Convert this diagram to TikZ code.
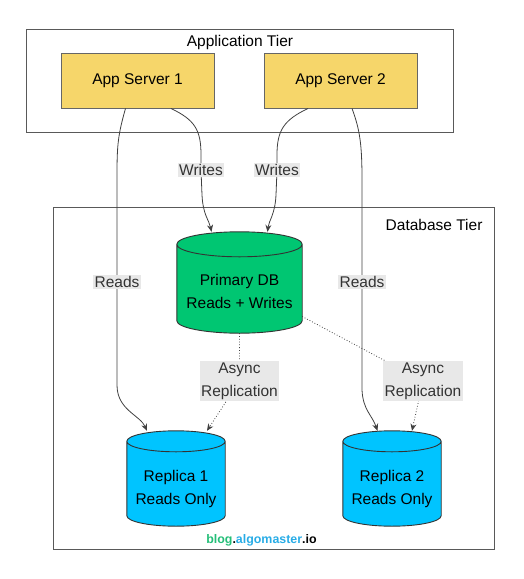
\documentclass[tikz,border=0pt]{standalone}
\usepackage{fontspec}
\setmainfont{Liberation Sans}
\usetikzlibrary{arrows.meta,calc,backgrounds}

\definecolor{serverfill}{RGB}{246,214,106}
\definecolor{primaryfill}{RGB}{0,198,114}
\definecolor{replicafill}{RGB}{0,196,255}
\definecolor{labelgray}{RGB}{232,232,232}
\definecolor{bloggreen}{RGB}{36,190,120}
\definecolor{blogblue}{RGB}{40,172,230}

% two lines of text, set a bit below the middle of the cylinder body
\newcommand{\dbtext}[2]{\raisebox{-13.5pt}[0pt][0pt]{\begin{tabular}{@{}c@{}}#1\\#2\end{tabular}}}
% cylinder drawn round a node: name, fill colour, radius of the end ellipses
\newcommand{\dbcylinder}[3]{%
  \draw[dbline, fill=#2] let \p1=(#1.north west), \p2=(#1.north east), \n1={(\x2-\x1)/2} in
    ([yshift=-#3]#1.north west) -- ([yshift=#3]#1.south west)
    arc[start angle=180, end angle=360, x radius=\n1, y radius=#3]
    -- ([yshift=-#3]#1.north east)
    arc[start angle=0, end angle=180, x radius=\n1, y radius=#3] -- cycle
    ([yshift=-#3]#1.north west) arc[start angle=180, end angle=360, x radius=\n1, y radius=#3];}

\begin{document}
\begin{tikzpicture}[x=1pt, y=-1pt, font=\fontsize{15.5}{23}\selectfont,
  tier/.style={draw=black!65, line width=0.9pt},
  server/.style={draw=black!60, fill=serverfill, line width=0.9pt,
    minimum width=153pt, minimum height=55pt},
  db/.style={inner sep=0pt},
  dbline/.style={draw=black!80, line width=0.9pt},
  flow/.style={draw=black!75, line width=0.8pt, -{Stealth[length=7pt,width=6pt]}},
  repl/.style={flow, dotted},
  lbl/.style={fill=labelgray, text=black!80, inner sep=1.5pt, align=center}]

% The page is the size of the reference picture (pixel units, y down)
\useasboundingbox (0,0) rectangle (524,579);

% Tiers
\node[tier, minimum width=427pt, minimum height=103pt] (apptier) at (239.5,80.5) {};
\node (apptitle) at (240,42) {Application Tier};
\node[tier, minimum width=441pt, minimum height=342pt] (dbtier) at (273.5,378) {};
\node[anchor=east] (dbtitle) at (486,225) {Database Tier};

% Servers and databases
\node[server] (app1) at (137.5,80.5) {App Server 1};
\node[server] (app2) at (340.5,80.5) {App Server 2};
\node[db, minimum width=125pt, minimum height=101pt]
  (primary) at (239.5,282.5) {\dbtext{Primary DB}{Reads + Writes}};
\node[db, minimum width=98pt, minimum height=95pt]
  (rep1) at (176,478.5) {\dbtext{Replica 1}{Reads Only}};
\node[db, minimum width=98pt, minimum height=95pt]
  (rep2) at (392,478.5) {\dbtext{Replica 2}{Reads Only}};

\begin{scope}[on background layer]
\dbcylinder{primary}{primaryfill}{12.5pt}
\dbcylinder{rep1}{replicafill}{10.5pt}
\dbcylinder{rep2}{replicafill}{10.5pt}
\end{scope}

% Reads and writes
\draw[flow] ([xshift=-12pt]app1.south) .. controls (118,135) and (117,145) .. (117,175)
  -- (117,282) node[lbl] {Reads} -- (117,385)
  .. controls (117,410) and (140,415) .. ([xshift=-29pt]rep1.north);
\draw[flow] ([xshift=33.5pt]app1.south) .. controls (195,120) and (201,130) .. (201,155)
  -- (201,170) node[lbl] {Writes} -- (202,195)
  .. controls (203,215) and (209,220) .. ([xshift=-28pt]primary.north);
\draw[flow] ([xshift=-32.5pt]app2.south) .. controls (284,120) and (277,130) .. (277,155)
  -- (277,170) node[lbl] {Writes} -- (276,195)
  .. controls (275,215) and (269,220) .. ([xshift=28pt]primary.north);
\draw[flow] ([xshift=11.5pt]app2.south) .. controls (360,130) and (362,145) .. (362,180)
  -- (362,282) node[lbl] {Reads} -- (362,390)
  .. controls (363,410) and (372,415) .. ([xshift=-14.5pt]rep2.north);

% Replication
\draw[repl] (primary.south) -- (239.5,381) node[lbl] {Async\\Replication}
  -- ([xshift=31pt]rep1.north);
\draw[repl] ([yshift=-34pt]primary.east) -- (423,381) node[lbl] {Async\\Replication}
  -- ([xshift=20pt]rep2.north);

% Watermark
\node[font=\fontsize{12.4}{14}\selectfont\bfseries] (blog) at (261.5,540)
  {\textcolor{bloggreen}{blog}.\textcolor{blogblue}{algomaster}.io};

\end{tikzpicture}
\end{document}
